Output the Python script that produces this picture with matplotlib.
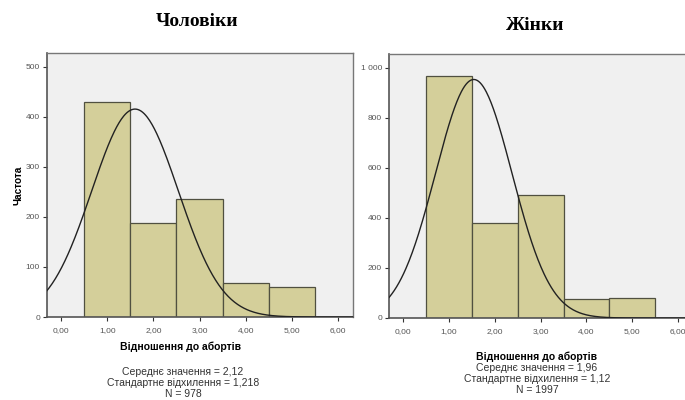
import numpy as np
import matplotlib
matplotlib.use("Agg")
import matplotlib.pyplot as plt
from matplotlib.ticker import FuncFormatter

# Data
bin_centers = [1, 2, 3, 4, 5]
men_counts = [430, 188, 235, 68, 59]
women_counts = [969, 380, 493, 77, 82]
x_ticks = [0, 1, 2, 3, 4, 5, 6]
men_yticks = [0, 100, 200, 300, 400, 500]
women_yticks = [0, 200, 400, 600, 800, 1000]

# Normal curve as drawn in the picture (mean, sd, N)
men_curve = (1.60, 0.94, 978)
women_curve = (1.54, 0.835, 1997)

titles = ["Чоловіки", "Жінки"]
xlabel = "Відношення до абортів"
ylabel = "Частота"
men_stats = "Середнє значення = 2,12\nСтандартне відхилення = 1,218\nN = 978"
women_stats = "Середнє значення = 1,96\nСтандартне відхилення = 1,12\nN = 1997"

W, H = 685, 400
fig = plt.figure(figsize=(W / 100, H / 100), dpi=100)
plt.rcParams['font.family'] = ['Liberation Sans', 'DejaVu Sans']

bar_color = "#D4CF9A"
edge_color = "#505040"
bg = "#F0F0F0"


def fmt_x(v, pos):
    return f"{v:.2f}".replace(".", ",")


def fmt_y(v, pos):
    v = int(round(v))
    if v >= 1000:
        return f"{v // 1000} {v % 1000:03d}"
    return str(v)


axL = fig.add_axes([47 / W, 1 - 317 / H, (353 - 47) / W, (317 - 53) / H])
axR = fig.add_axes([389 / W, 1 - 318 / H, (685 - 389) / W, (318 - 54) / H])

for ax, counts, yticks, ytop, curve, xmax in [
    (axL, men_counts, men_yticks, 527, men_curve, 6.33),
    (axR, women_counts, women_yticks, 1056, women_curve, 6.15),
]:
    ax.set_facecolor(bg)
    ax.bar(bin_centers, counts, width=1.0, color=bar_color, edgecolor=edge_color,
           linewidth=0.9, zorder=2)
    mu, sd, n = curve
    xs = np.linspace(-0.4, 6.4, 400)
    ys = n / (sd * np.sqrt(2 * np.pi)) * np.exp(-0.5 * ((xs - mu) / sd) ** 2)
    ax.plot(xs, ys, color="#222222", linewidth=1.0, zorder=3)
    ax.set_xlim(-0.31, xmax)
    ax.set_ylim(0, ytop)
    ax.set_xticks(x_ticks)
    ax.set_yticks(yticks)
    ax.xaxis.set_major_formatter(FuncFormatter(fmt_x))
    ax.yaxis.set_major_formatter(FuncFormatter(fmt_y))
    ax.tick_params(axis='both', labelsize=6.0, labelcolor="#555555", color="#333333",
                   length=3, width=0.8, pad=2)
    ax.tick_params(axis='x', pad=4)
    for s in ['top', 'right']:
        ax.spines[s].set_color("#777777")
        ax.spines[s].set_linewidth(1.0)
    for s in ['left', 'bottom']:
        ax.spines[s].set_color("#555555")
        ax.spines[s].set_linewidth(1.2)

axR.spines['right'].set_visible(False)

# titles
fig.text(197 / W, 1 - 22 / H, titles[0], ha='center', va='center', fontsize=14,
         fontweight='bold', family=['Liberation Serif', 'DejaVu Serif'])
fig.text(535 / W, 1 - 26 / H, titles[1], ha='center', va='center', fontsize=14,
         fontweight='bold', family=['Liberation Serif', 'DejaVu Serif'])

# y label
fig.text(18 / W, 1 - 185 / H, ylabel, rotation=90, ha='center', va='center', fontsize=7.3,
         fontweight='bold')

# x labels
fig.text(181 / W, 1 - 347 / H, xlabel, ha='center', va='center', fontsize=7.5, fontweight='bold')
fig.text(537 / W, 1 - 357 / H, xlabel, ha='center', va='center', fontsize=7.5, fontweight='bold')

# stats
fig.text(183 / W, 1 - 383 / H, men_stats, ha='center', va='center', fontsize=7.5,
         color="#333333", linespacing=1.15)
fig.text(537 / W, 1 - 379 / H, women_stats, ha='center', va='center', fontsize=7.5,
         color="#333333", linespacing=1.15)

fig.savefig("out.png", dpi=100)
